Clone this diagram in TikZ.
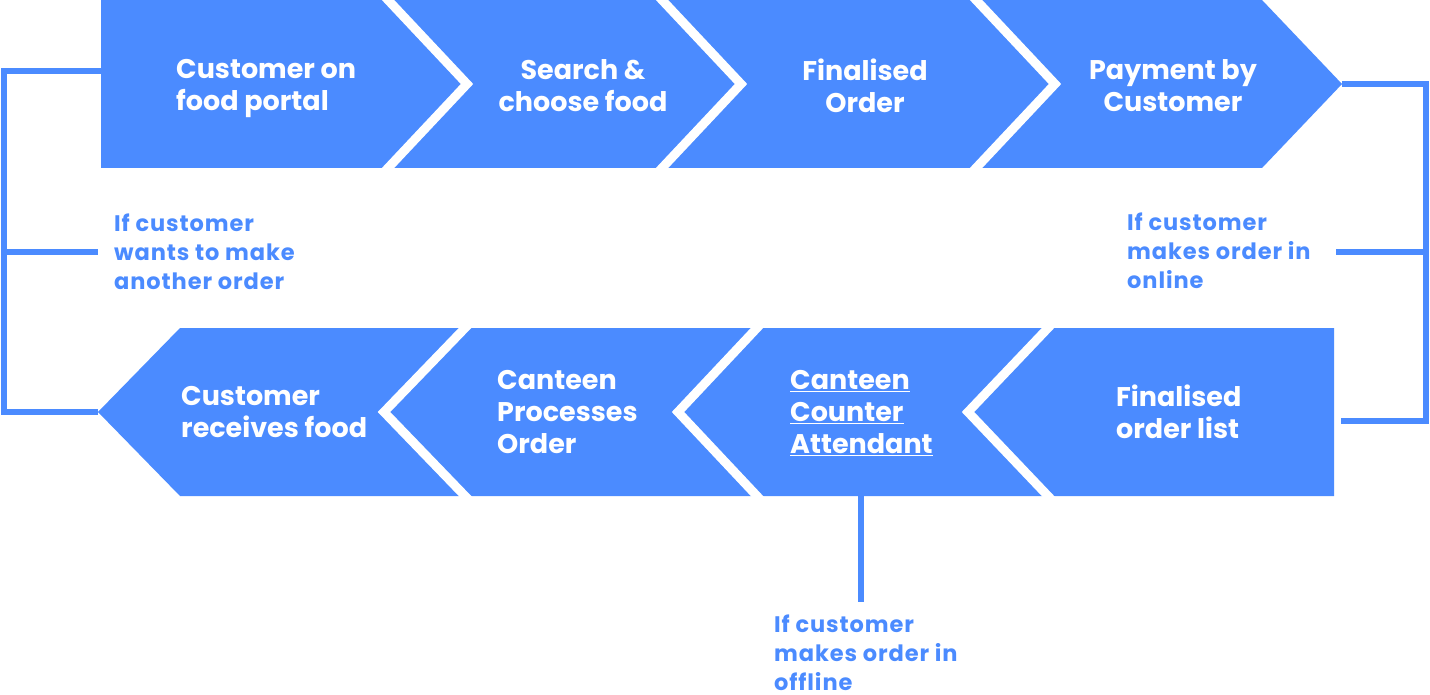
\documentclass[tikz,border=0pt]{standalone}
\usepackage{fontspec}
\setmainfont{Poppins}
\newfontfamily\notefont[LetterSpace=4]{Poppins}
\definecolor{flow}{HTML}{4B8BFF}

\tikzset{
  stage/.style={fill=flow, draw=none},
  sep/.style={draw=white, line width=9pt, line join=miter, line cap=butt},
  link/.style={draw=flow, line width=6pt, line join=miter},
  boxtext/.style={text=white, font=\fontsize{27}{32}\selectfont\bfseries, inner sep=0pt},
  note/.style={text=flow, font=\notefont\fontsize{22.5}{29}\selectfont\bfseries, align=left, inner sep=0pt, anchor=west},
}

\begin{document}
\begin{tikzpicture}[x=1pt, y=-1pt]
\useasboundingbox (0,0) rectangle (1430,695);

% upper row of stages, pointing right
\fill[stage] (101,0) -- (388,0) -- (467,84) -- (388,168) -- (101,168) -- cycle;
\fill[stage] (388,0) -- (662,0) -- (741,84) -- (662,168) -- (388,168) -- (467,84) -- cycle;
\fill[stage] (662,0) -- (976,0) -- (1055,84) -- (976,168) -- (662,168) -- (741,84) -- cycle;
\fill[stage] (976,0) -- (1262,0) -- (1342,84) -- (1262,168) -- (976,168) -- (1055,84) -- cycle;
\draw[sep] (382.4,-6) -- (467,84) -- (382.4,174);
\draw[sep] (656.4,-6) -- (741,84) -- (656.4,174);
\draw[sep] (970.4,-6) -- (1055,84) -- (970.4,174);

% lower row of stages, pointing left
\fill[stage] (98,412) -- (180,328) -- (465,328) -- (384,412) -- (465,496) -- (180,496) -- cycle;
\fill[stage] (384,412) -- (465,328) -- (757,328) -- (678,412) -- (757,496) -- (465,496) -- cycle;
\fill[stage] (678,412) -- (757,328) -- (1048,328) -- (968,412) -- (1048,496) -- (757,496) -- cycle;
\fill[stage] (968,412) -- (1048,328) -- (1334,328) -- (1334,496) -- (1048,496) -- cycle;
\draw[sep] (470.8,322) -- (384,412) -- (470.8,502);
\draw[sep] (762.6,322) -- (678,412) -- (762.6,502);
\draw[sep] (1053.7,322) -- (968,412) -- (1053.7,502);

% stage labels
\node[boxtext, align=left, anchor=west] (portal) at (176,89) {Customer on\\food portal};
\node[boxtext, align=center] (search) at (583,86) {Search \&\\choose food};
\node[boxtext, align=center] (final) at (865,86) {Finalised\\Order};
\node[boxtext, align=center] (pay) at (1173,86) {Payment by\\Customer};
\node[boxtext, align=left, anchor=west] (receive) at (181,412) {Customer\\receives food};
\node[boxtext, align=left, anchor=west] (process) at (497,412) {Canteen\\Processes\\Order};
\node[boxtext, align=left, anchor=west] (counter) at (790,413) {\underline{Canteen}\\\underline{Counter}\\\underline{Attendant}};
\node[boxtext, align=left, anchor=west] (list) at (1116,412) {Finalised\\order list};

% connector end points on the stages
\coordinate (portalW) at (101,71);
\coordinate (receiveW) at (98,412);
\coordinate (payE) at (1342,84);
\coordinate (listE) at (1341,421);
\coordinate (counterS) at (861,496);
\coordinate (railL) at (4,252);
\coordinate (railR) at (1426,252);
\coordinate (stubL) at (98,252);
\coordinate (stubR) at (1336,252);
\coordinate (stubD) at (861,602);

% loops and branches
\draw[link] (portalW) -| (railL) |- (receiveW);
\draw[link] (railL) -- (stubL);
\draw[link] (payE) -| (railR) |- (listE);
\draw[link] (railR) -- (stubR);
\draw[link] (counterS) -- (stubD);

% branch notes
\node[note] (again) at (114,252) {If customer\\wants to make\\another order};
\node[note] (online) at (1127,251) {If customer\\makes order in\\online};
\node[note] (offline) at (774,653) {If customer\\makes order in\\offline};
\end{tikzpicture}
\end{document}
